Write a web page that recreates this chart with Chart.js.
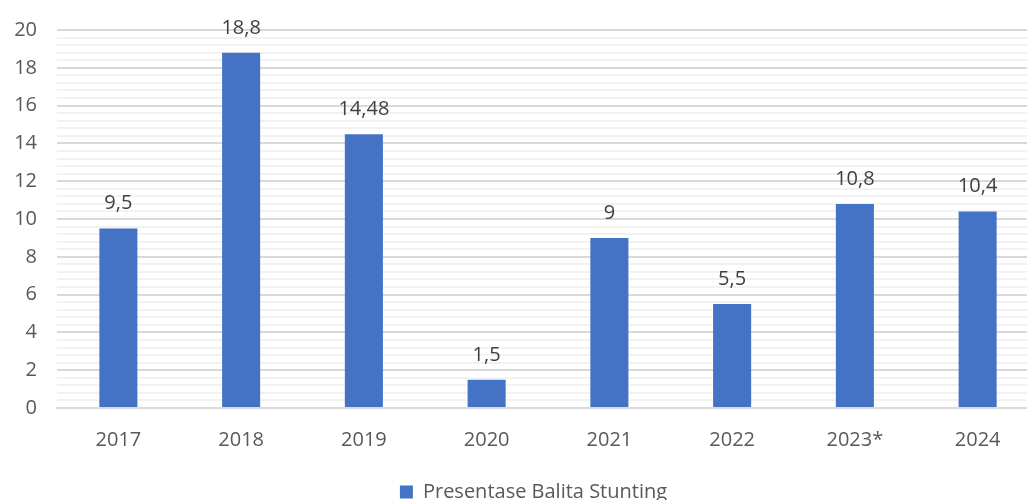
<!DOCTYPE html>
<html>
<head>
<meta charset="utf-8">
<script src="https://cdn.jsdelivr.net/npm/chart.js@4/dist/chart.umd.min.js"></script>
<style>
  html, body { margin: 0; padding: 0; background: #fff; overflow: hidden; }
  #wrap { position: relative; width: 1039px; height: 514px; margin-top: -2px; }
</style>
</head>
<body>
<div id="wrap"><canvas id="stunting-chart"></canvas></div>
<script>
const years = ['2017', '2018', '2019', '2020', '2021', '2022', '2023*', '2024'];
const stunting = [9.5, 18.8, 14.48, 1.5, 9, 5.5, 10.8, 10.4];
const seriesName = 'Presentase Balita Stunting';

const FONT = "'Open Sans', 'Liberation Sans', sans-serif";

// draws the value above each bar, with a comma as decimal separator
const valueLabels = {
  id: 'valueLabels',
  afterDatasetsDraw(chart) {
    const ctx = chart.ctx;
    const meta = chart.getDatasetMeta(0);
    ctx.save();
    ctx.font = '20px ' + FONT;
    ctx.fillStyle = '#404040';
    ctx.textAlign = 'center';
    ctx.textBaseline = 'alphabetic';
    meta.data.forEach((bar, i) => {
      const txt = String(stunting[i]).replace('.', ',');
      ctx.fillText(txt, bar.x, bar.y - 19);
    });
    ctx.restore();
  }
};

// legend sits a bit right of canvas centre in the original
const shiftLegend = {
  id: 'shiftLegend',
  afterLayout(chart) {
    if (!chart.legend) return;
    chart.legend.left += 14;
    chart.legend.right += 14;
  }
};

const isMajor = v => Math.abs(v - Math.round(v)) < 1e-6 && Math.round(v) % 2 === 0;

new Chart(document.getElementById('stunting-chart'), {
  type: 'bar',
  data: {
    labels: years,
    datasets: [{
      label: seriesName,
      data: stunting,
      backgroundColor: '#4472c4',
      borderWidth: 0,
      categoryPercentage: 0.31,
      barPercentage: 1
    }]
  },
  options: {
    responsive: true,
    maintainAspectRatio: false,
    animation: false,
    layout: { padding: { top: 12, left: 0, right: 0, bottom: 0 } },
    plugins: {
      tooltip: { enabled: false },
      legend: {
        display: true,
        position: 'bottom',
        labels: {
          boxWidth: 13,
          boxHeight: 13,
          padding: 10,
          color: '#595959',
          font: { size: 20, family: FONT }
        }
      }
    },
    scales: {
      x: {
        grid: { display: false, drawTicks: false },
        border: { display: true, color: '#d9d9d9', width: 2 },
        ticks: { color: '#595959', padding: 20, font: { size: 20, family: FONT } }
      },
      y: {
        min: 0,
        max: 20,
        border: { display: false },
        afterFit: scale => { scale.width = 57; },
        grid: {
          drawTicks: false,
          lineWidth: 2,
          color: c => isMajor(c.tick.value) ? '#d9d9d9' : '#f2f2f2'
        },
        ticks: {
          stepSize: 0.4,
          autoSkip: false,
          padding: 20,
          color: '#595959',
          font: { size: 20, family: FONT },
          callback: v => isMajor(v) ? String(Math.round(v)) : ''
        }
      }
    }
  },
  plugins: [valueLabels, shiftLegend]
});
</script>
</body>
</html>
